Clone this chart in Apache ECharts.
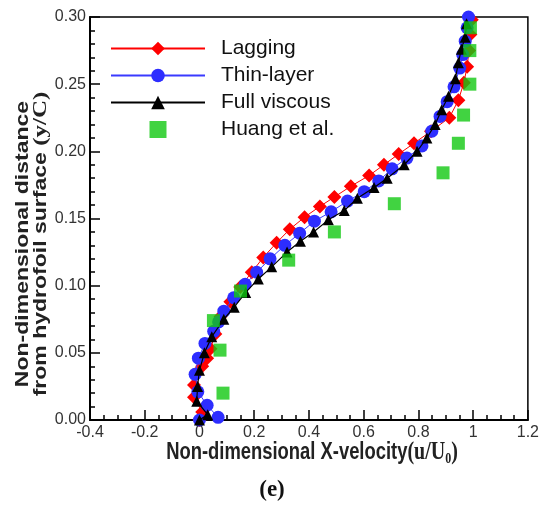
<!DOCTYPE html>
<html>
<head>
<meta charset="utf-8">
<script src="https://cdn.jsdelivr.net/npm/echarts@6/dist/echarts.min.js"></script>
<style>
html,body{margin:0;padding:0;background:#fff;}
#chart{width:542px;height:516px;}
</style>
</head>
<body>
<div id="chart"></div>
<script>
// ---- data (u/U0, y/C) ----
const laggingU = [0.000, 0.010, -0.020, -0.020, -0.010, 0.010, 0.028, 0.040, 0.058, 0.077, 0.113, 0.149, 0.191, 0.233, 0.282, 0.330, 0.384, 0.440, 0.493, 0.553, 0.620, 0.674, 0.728, 0.784, 0.846, 0.913, 0.946, 0.966, 0.978, 0.985, 0.990, 0.995];
const laggingY = [0.000, 0.006, 0.017, 0.026, 0.035, 0.040, 0.046, 0.053, 0.064, 0.077, 0.088, 0.099, 0.110, 0.121, 0.132, 0.142, 0.151, 0.159, 0.166, 0.174, 0.182, 0.190, 0.198, 0.206, 0.215, 0.225, 0.238, 0.251, 0.263, 0.275, 0.287, 0.298];

const thinU = [0.000, 0.068, 0.028, -0.006, -0.016, -0.004, 0.020, 0.052, 0.070, 0.089, 0.125, 0.167, 0.209, 0.258, 0.312, 0.366, 0.420, 0.481, 0.541, 0.602, 0.655, 0.704, 0.758, 0.813, 0.849, 0.879, 0.905, 0.930, 0.951, 0.962, 0.971, 0.978, 0.983];
const thinY = [0.000, 0.002, 0.011, 0.021, 0.034, 0.046, 0.057, 0.066, 0.073, 0.081, 0.091, 0.101, 0.110, 0.120, 0.130, 0.139, 0.148, 0.155, 0.163, 0.170, 0.178, 0.187, 0.195, 0.204, 0.215, 0.226, 0.237, 0.248, 0.262, 0.272, 0.282, 0.292, 0.300];

const fullU = [0.000, 0.030, -0.010, -0.007, 0.000, 0.018, 0.045, 0.089, 0.127, 0.169, 0.215, 0.264, 0.320, 0.369, 0.417, 0.471, 0.529, 0.577, 0.638, 0.686, 0.748, 0.795, 0.831, 0.861, 0.885, 0.910, 0.935, 0.946, 0.957, 0.971, 0.976];
const fullY = [0.000, 0.004, 0.014, 0.025, 0.037, 0.050, 0.062, 0.075, 0.084, 0.095, 0.105, 0.114, 0.125, 0.133, 0.140, 0.149, 0.156, 0.165, 0.173, 0.180, 0.190, 0.200, 0.210, 0.220, 0.231, 0.241, 0.254, 0.266, 0.276, 0.285, 0.295];

const huangU = [0.086, 0.075, 0.051, 0.150, 0.326, 0.493, 0.712, 0.890, 0.946, 0.965, 0.988, 0.988, 0.990];
const huangY = [0.020, 0.052, 0.074, 0.096, 0.119, 0.140, 0.161, 0.184, 0.206, 0.227, 0.250, 0.275, 0.292];

const seriesNames = ['Lagging', 'Thin-layer', 'Full viscous', 'Huang et al.'];
const xTicks = ['-0.4', '-0.2', '0', '0.2', '0.4', '0.6', '0.8', '1', '1.2'];

function pairs(xs, ys) { return xs.map((x, i) => [x, ys[i]]); }

const SANS = '"Liberation Sans", Arial, sans-serif';
const SERIF = '"Liberation Serif", "Times New Roman", serif';

const chart = echarts.init(document.getElementById('chart'), null, {renderer: 'canvas'});
const option = {
  animation: false,
  backgroundColor: '#fff',
  grid: {left: 90, right: 10, top: 17, bottom: 96, show: true, borderColor: '#000', borderWidth: 1.5},
  legend: {
    orient: 'vertical', left: 105, top: 33,
    itemWidth: 94, itemHeight: 17, itemGap: 6,
    textStyle: {fontFamily: SANS, fontSize: 21, color: '#111', padding: [0, 0, 0, 11]},
    data: [
      {name: seriesNames[0]},
      {name: seriesNames[1]},
      {name: seriesNames[2]},
      {name: seriesNames[3], icon: 'path://M0,0L10,0L10,10L0,10Z'}
    ]
  },
  xAxis: {
    type: 'value', min: -0.4, max: 1.2, interval: 0.2,
    axisLine: {show: true, onZero: false, lineStyle: {color: '#000', width: 2}},
    axisTick: {show: true, inside: true, length: 10, lineStyle: {color: '#000', width: 1.5}},
    minorTick: {show: true, splitNumber: 4, length: 5, lineStyle: {color: '#000', width: 1.5}},
    splitLine: {show: false},
    axisLabel: {
      fontFamily: SANS, fontSize: 16, color: '#333', margin: 5,
      formatter: function (v) { const i = Math.round((v + 0.4) / 0.2); return xTicks[i] !== undefined ? xTicks[i] : ''; }
    }
  },
  yAxis: {
    type: 'value', min: 0, max: 0.3, interval: 0.05,
    axisLine: {show: true, onZero: false, lineStyle: {color: '#000', width: 2}},
    axisTick: {show: true, inside: true, length: 10, lineStyle: {color: '#000', width: 1.5}},
    minorTick: {show: true, splitNumber: 5, length: 5, lineStyle: {color: '#000', width: 1.5}},
    splitLine: {show: false},
    axisLabel: {
      fontFamily: SANS, fontSize: 16, color: '#333', margin: 4,
      formatter: function (v) { return v.toFixed(2); }
    }
  },
  series: [
    {
      name: seriesNames[0], type: 'line', data: pairs(laggingU, laggingY),
      symbol: 'diamond', symbolSize: 14, showAllSymbol: true,
      lineStyle: {color: '#ff0000', width: 1}, itemStyle: {color: '#ff0000'}, z: 2
    },
    {
      name: seriesNames[1], type: 'line', data: pairs(thinU, thinY),
      symbol: 'circle', symbolSize: 13, showAllSymbol: true,
      lineStyle: {color: '#3a3aff', width: 1}, itemStyle: {color: '#2d2dff'}, z: 3
    },
    {
      name: seriesNames[2], type: 'line', data: pairs(fullU, fullY),
      symbol: 'triangle', symbolSize: 11, showAllSymbol: true,
      lineStyle: {color: '#000', width: 1.2}, itemStyle: {color: '#000'}, z: 4
    },
    {
      name: seriesNames[3], type: 'scatter', data: pairs(huangU, huangY),
      symbol: 'rect', symbolSize: 13,
      itemStyle: {color: '#11c811'}, z: 5
    }
  ],
  graphic: [
    {
      type: 'text', x: 312, y: 453, scaleX: 0.8,
      style: {
        text: '{t|Non-dimensional X-velocity}{s|(u/U}{sub|0}{s|)}',
        align: 'center', verticalAlign: 'middle',
        rich: {
          t: {fontFamily: SANS, fontWeight: 'bold', fontSize: 23, fill: '#222'},
          s: {fontFamily: SERIF, fontWeight: 'bold', fontSize: 25, fill: '#222'},
          sub: {fontFamily: SERIF, fontWeight: 'bold', fontSize: 15, fill: '#222', padding: [12, 0, 0, 0]}
        }
      }
    },
    {
      type: 'text', x: 32, y: 244, rotation: Math.PI / 2, scaleY: 0.76,
      style: {
        text: '{t|Non-dimensional distance}\n{t|from hydrofoil surface }{s|(y/C)}',
        align: 'center', verticalAlign: 'middle',
        rich: {
          t: {fontFamily: SANS, fontWeight: 'bold', fontSize: 23, fill: '#222', lineHeight: 24, align: 'center'},
          s: {fontFamily: SERIF, fontWeight: 'bold', fontSize: 25, fill: '#222', lineHeight: 24}
        }
      }
    },
    {type: 'text', x: 272, y: 490, style: {text: '(e)', font: 'bold 23px "Liberation Serif", "Times New Roman", serif', fill: '#111', align: 'center', verticalAlign: 'middle'}}
  ]
};
chart.setOption(option);
</script>
</body>
</html>
